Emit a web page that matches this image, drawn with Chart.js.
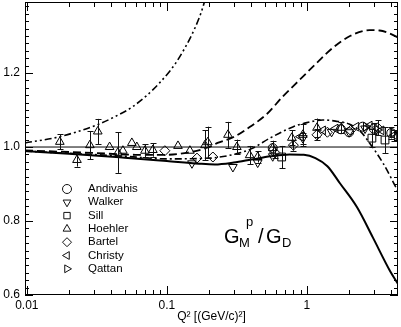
<!DOCTYPE html>
<html>
<head>
<meta charset="utf-8">
<script src="https://cdn.jsdelivr.net/npm/chart.js@4.4.1/dist/chart.umd.min.js"></script>
<style>
  html, body { margin: 0; padding: 0; background: #fff; }
</style>
</head>
<body>
<canvas id="chart" width="401" height="327"></canvas>
<script>
// axis ticks
const xTickLabels = [0.01, 0.1, 1];
const yTickLabels = [0.6, 0.8, 1.0, 1.2];
const refLevel = [1.0];

// measurements: Q^2, GMp/GD, error
const andivahisQ = [0.57, 1.75, 2.0, 2.5, 3.0, 4.0];
const andivahisR = [0.997, 1.048, 1.040, 1.055, 1.050, 1.038];
const andivahisE = [0.012, 0.012, 0.012, 0.012, 0.015, 0.015];

const walkerQ = [0.151, 0.296, 0.445, 0.57, 0.935, 1.5, 2.0, 2.6];
const walkerR = [0.956, 0.946, 0.958, 0.975, 1.024, 1.041, 1.040, 1.050];
const walkerE = [0.008, 0.008, 0.010, 0.012, 0.015, 0.010, 0.010, 0.010];

const sillQ = [0.66, 2.91, 3.61];
const sillR = [0.973, 1.024, 1.019];
const sillE = [0.030, 0.025, 0.035];

const hoehlerQ = [0.0172, 0.0228, 0.0282, 0.0321, 0.039, 0.0447, 0.0485, 0.0562, 0.061, 0.0697, 0.0794, 0.12,
  0.146, 0.187, 0.196, 0.273, 0.316, 0.39, 0.445, 0.57, 0.78, 0.935, 1.18, 1.76];
const hoehlerR = [1.014, 0.965, 1.005, 1.042, 1.000, 0.985, 0.990, 1.011, 1.000, 0.990, 0.992, 1.003,
  0.990, 1.005, 1.013, 1.033, 1.000, 0.978, 0.973, 0.997, 1.025, 1.033, 1.052, 1.052];
const hoehlerE = [0.020, 0.018, 0.038, 0.034, 0.010, 0.055, 0.008, 0.010, 0.008, 0.018, 0.018, 0.006,
  0.010, 0.040, 0.042, 0.035, 0.020, 0.025, 0.015, 0.020, 0.020, 0.030, 0.025, 0.015];

const bartelQ = [0.0967, 0.164, 0.213, 0.59, 0.8, 1.18, 1.4, 2.05, 3.2];
const bartelR = [0.990, 0.970, 0.973, 0.985, 1.005, 1.033, 1.040, 1.045, 1.052];
const bartelE = [0.006, 0.006, 0.008, 0.015, 0.015, 0.015, 0.012, 0.012, 0.020];

const christyQ = [0.9, 1.3, 1.6, 2.25, 2.8, 3.4, 4.2];
const christyR = [1.028, 1.045, 1.050, 1.055, 1.058, 1.045, 1.032];
const christyE = [0.010, 0.010, 0.010, 0.010, 0.012, 0.012, 0.015];

const qattanQ = [2.64, 3.2, 4.1];
const qattanR = [1.055, 1.046, 1.038];
const qattanE = [0.010, 0.012, 0.012];

// model curves
const solidQ = [0.0097, 0.02, 0.05, 0.1, 0.17, 0.22, 0.3, 0.4, 0.55, 0.75, 0.95, 1.15, 1.4, 1.72, 2.28, 2.96, 3.92, 4.47];
const solidR = [0.989, 0.982, 0.971, 0.962, 0.955, 0.953, 0.958, 0.966, 0.975, 0.980, 0.979, 0.970, 0.948, 0.902, 0.837, 0.755, 0.665, 0.630];

const dashQ = [0.0097, 0.03, 0.06, 0.1, 0.15, 0.2, 0.23, 0.3, 0.39, 0.52, 0.67, 0.89, 1.18, 1.54, 2.03, 2.8, 3.3, 3.9, 4.47];
const dashR = [0.991, 0.984, 0.979, 0.979, 0.987, 1.000, 1.011, 1.027, 1.054, 1.090, 1.136, 1.182, 1.228, 1.269, 1.300, 1.316, 1.315, 1.307, 1.296];

const dashDotQ = [0.0097, 0.05, 0.1, 0.2, 0.3, 0.4, 0.55, 0.8, 1.0, 1.3, 1.6, 2.0, 2.4, 2.7, 3.5, 4.47];
const dashDotR = [0.989, 0.975, 0.968, 0.970, 0.980, 0.995, 1.025, 1.055, 1.066, 1.073, 1.070, 1.062, 1.043, 1.019, 0.956, 0.880];

const dashDot2Q = [0.0097, 0.0172, 0.0332, 0.0425, 0.057, 0.089, 0.124, 0.172, 0.195];
const dashDot2R = [1.011, 1.028, 1.063, 1.082, 1.109, 1.174, 1.245, 1.354, 1.420];

const pts = (qs, rs) => qs.map((q, i) => ({ x: q, y: rs[i] }));

function markers(label, qs, rs, es, style, rot, r) {
  return {
    label, data: pts(qs, rs), errors: es, marker: true,
    pointStyle: style, pointRotation: rot, pointRadius: r,
    pointBorderColor: '#000', pointBackgroundColor: 'rgba(0,0,0,0)', pointBorderWidth: 1,
    showLine: false, order: 1
  };
}

function curve(qs, rs, width, dash) {
  return {
    data: pts(qs, rs), showLine: true, pointRadius: 0, borderColor: '#000',
    borderWidth: width, borderDash: dash, cubicInterpolationMode: 'monotone', order: 2
  };
}

const xMin = 0.0097, xMax = 4.47;

// error bars
const errorBars = {
  id: 'errorBars',
  afterDatasetsDraw(chart) {
    const { ctx, chartArea: a, scales: { y } } = chart;
    ctx.save();
    ctx.beginPath();
    ctx.rect(a.left, a.top, a.right - a.left, a.bottom - a.top);
    ctx.clip();
    ctx.strokeStyle = '#111';
    ctx.lineWidth = 1;
    chart.data.datasets.forEach((ds, di) => {
      if (!ds.errors) return;
      chart.getDatasetMeta(di).data.forEach((p, i) => {
        const e = ds.errors[i];
        const v = ds.data[i].y;
        const x = Math.round(p.x) + 0.5;
        const y1 = y.getPixelForValue(v + e), y2 = y.getPixelForValue(v - e);
        if (y2 - y1 < 9) return;
        ctx.beginPath();
        ctx.moveTo(x, y1); ctx.lineTo(x, y2);
        ctx.moveTo(x - 3, Math.round(y1) + 0.5); ctx.lineTo(x + 3, Math.round(y1) + 0.5);
        ctx.moveTo(x - 3, Math.round(y2) + 0.5); ctx.lineTo(x + 3, Math.round(y2) + 0.5);
        ctx.stroke();
      });
    });
    ctx.restore();
  }
};

// frame with inward ticks on all sides
const frameTicks = {
  id: 'frameTicks',
  afterDraw(chart) {
    const { ctx, chartArea: a, scales: { x, y } } = chart;
    ctx.save();
    ctx.strokeStyle = '#000';
    ctx.lineWidth = 1;
    ctx.strokeRect(a.left + 0.5, a.top + 0.5, a.right - a.left - 1, a.bottom - a.top - 1);
    ctx.beginPath();
    for (let e = -3; e <= 1; e++) {
      for (let k = 1; k <= 9; k++) {
        const v = k * Math.pow(10, e);
        if (v < x.min || v > x.max) continue;
        const px = Math.round(x.getPixelForValue(v)) + 0.5;
        const len = k === 1 ? 9 : 5;
        ctx.moveTo(px, a.bottom); ctx.lineTo(px, a.bottom - len);
        ctx.moveTo(px, a.top); ctx.lineTo(px, a.top + len);
      }
    }
    for (let i = 30; i <= 70; i++) {
      const v = i * 0.02;
      if (v < y.min - 1e-9 || v > y.max) continue;
      const py = Math.round(y.getPixelForValue(v)) + 0.5;
      const len = i % 10 === 0 ? 8 : 4;
      ctx.moveTo(a.left, py); ctx.lineTo(a.left + len, py);
      ctx.moveTo(a.right, py); ctx.lineTo(a.right - len, py);
    }
    ctx.stroke();
    ctx.restore();
  }
};

// legend inside the plot and the G_M^p / G_D label
const insideLabels = {
  id: 'insideLabels',
  afterDraw(chart) {
    const { ctx } = chart;
    ctx.save();
    ctx.strokeStyle = '#111';
    ctx.lineWidth = 1;
    ctx.font = '11.5px "Liberation Sans", Arial, sans-serif';
    ctx.textBaseline = 'middle';
    let row = 0;
    chart.data.datasets.forEach(ds => {
      if (!ds.marker) return;
      const ly = 189 + row * 13.3;
      ctx.fillStyle = 'rgba(0,0,0,0)';
      Chart.helpers.drawPoint(ctx, {
        pointStyle: ds.pointStyle, radius: 4.5, rotation: ds.pointRotation, borderWidth: 1
      }, 67, ly);
      ctx.fillStyle = '#000';
      ctx.fillText(ds.label, 88, ly);
      row++;
    });
    ctx.fillStyle = '#000';
    ctx.textBaseline = 'alphabetic';
    const big = '20px "Liberation Sans", Arial, sans-serif';
    const small = '13px "Liberation Sans", Arial, sans-serif';
    ctx.font = big; ctx.fillText('G', 224, 243);
    ctx.font = small; ctx.fillText('M', 239, 247);
    ctx.fillText('p', 246, 226);
    ctx.font = big; ctx.fillText('/', 258, 243);
    ctx.fillText('G', 266, 243);
    ctx.font = small; ctx.fillText('D', 282, 247);
    ctx.restore();
  }
};

Chart.defaults.font.family = '"Liberation Sans", Arial, sans-serif';
Chart.defaults.color = '#000';

new Chart(document.getElementById('chart'), {
  type: 'scatter',
  data: {
    datasets: [
      markers('Andivahis', andivahisQ, andivahisR, andivahisE, 'circle', 0, 4.5),
      markers('Walker', walkerQ, walkerR, walkerE, 'triangle', 180, 5),
      markers('Sill', sillQ, sillR, sillE, 'rect', 0, 5.5),
      markers('Hoehler', hoehlerQ, hoehlerR, hoehlerE, 'triangle', 0, 5),
      markers('Bartel', bartelQ, bartelR, bartelE, 'rectRot', 0, 5),
      markers('Christy', christyQ, christyR, christyE, 'triangle', -90, 5),
      markers('Qattan', qattanQ, qattanR, qattanE, 'triangle', 90, 5),
      { data: [{ x: xMin, y: refLevel[0] }, { x: xMax, y: refLevel[0] }], showLine: true, pointRadius: 0,
        borderColor: '#000', borderWidth: 1, order: 3 },
      curve(solidQ, solidR, 2, []),
      curve(dashQ, dashR, 1.8, [8, 4]),
      curve(dashDotQ, dashDotR, 1.6, [7, 3, 2, 3]),
      curve(dashDot2Q, dashDot2R, 1.6, [7, 3, 2, 3, 2, 3])
    ]
  },
  options: {
    responsive: false,
    animation: false,
    events: [],
    layout: { autoPadding: false, padding: { top: 2, right: 3, left: 0, bottom: 0 } },
    plugins: { legend: { display: false }, tooltip: { enabled: false } },
    scales: {
      x: {
        type: 'logarithmic',
        min: xMin, max: xMax,
        grid: { display: false, drawTicks: false },
        border: { display: false },
        afterBuildTicks: s => { s.ticks = xTickLabels.map(v => ({ value: v })); },
        afterFit: s => { s.height = 32; s.paddingLeft = 0; s.paddingRight = 0; },
        ticks: { autoSkip: false, maxRotation: 0, padding: 3, font: { size: 12 }, callback: v => String(v) },
        title: { display: true, text: 'Q² [(GeV/c)²]', font: { size: 12 }, padding: { top: 0, bottom: 3 } }
      },
      y: {
        min: 0.6, max: 1.392,
        grid: { display: false, drawTicks: false },
        border: { display: false },
        afterBuildTicks: s => { s.ticks = yTickLabels.map(v => ({ value: v })); },
        afterFit: s => { s.width = 25; s.paddingTop = 0; s.paddingBottom = 0; },
        ticks: { padding: 5, font: { size: 12 }, callback: v => v.toFixed(1) }
      }
    }
  },
  plugins: [errorBars, frameTicks, insideLabels]
});
</script>
</body>
</html>
